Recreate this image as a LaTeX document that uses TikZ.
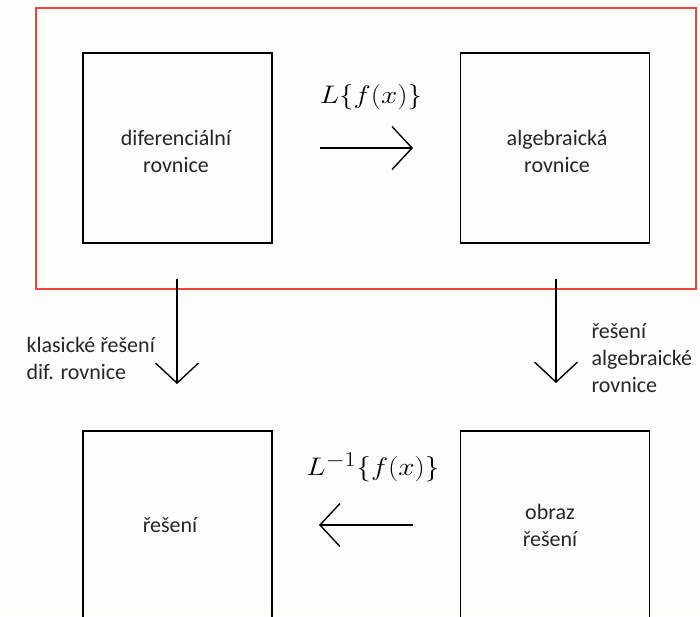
\documentclass[tikz,border=0pt]{standalone}
\usepackage{fontspec}
\setmainfont{Carlito}
\usetikzlibrary{arrows.meta}
\definecolor{frame}{RGB}{238,70,60}
\definecolor{bg}{RGB}{252,252,249}
\tikzset{
  box/.style={draw=black, line width=1.8pt, minimum width=189pt, minimum height=190pt, inner sep=0pt},
  lbl/.style={font=\fontsize{22}{27}\selectfont, align=center, text=black!85},
  sidelbl/.style={font=\fontsize{22}{27}\selectfont, align=left, text=black!85},
  mlbl/.style={font=\fontsize{24.88}{30}\selectfont},
  arr/.style={line width=1.4pt, -{Straight Barb[length=20pt,width=43pt,line width=1.4pt]}}
}
\begin{document}
\begin{tikzpicture}[x=1pt,y=-1pt]
\useasboundingbox (0,0) rectangle (700,616);
\fill[bg] (0,0) rectangle (700,616);
\draw[frame, line width=1.5pt] (36,8) rectangle (696,289);
\node[box] (dr) at (177.5,148) {};
\node[box] (ar) at (555,148) {};
\node[box, minimum height=200pt] (res) at (177.5,531) {};
\node[box, minimum height=200pt] (obr) at (555,531) {};
\node[lbl] (t1) at (176,151) {diferenciální\\rovnice};
\node[lbl] (t2) at (557,151) {algebraická\\rovnice};
\node[lbl] (t3) at (170,525) {řešení};
\node[lbl] (t4) at (550,525) {obraz\\řešení};
\coordinate (a1s) at (320,148);
\coordinate (a1e) at (413,148);
\draw[arr] (a1s) -- (a1e);
\node[mlbl] (m1) at (371,97) {\scalebox{1.17}[1.02]{$L\{f(x)\}$}};
\coordinate (a2s) at (413,525);
\coordinate (a2e) at (319,525);
\draw[arr] (a2s) -- (a2e);
\node[mlbl] (m2) at (373,467) {\scalebox{1.17}[1.02]{$L^{-1}\{f(x)\}$}};
\coordinate (a3s) at (177,279);
\coordinate (a3e) at (177,384);
\draw[arr] (a3s) -- (a3e);
\coordinate (a4s) at (556,279);
\coordinate (a4e) at (556,383);
\draw[arr] (a4s) -- (a4e);
\node[sidelbl, anchor=west] (s1) at (23,358) {klasické řešení\\dif. rovnice};
\node[sidelbl, anchor=west] (s2) at (588,358) {řešení\\algebraické\\rovnice};
\end{tikzpicture}
\end{document}
